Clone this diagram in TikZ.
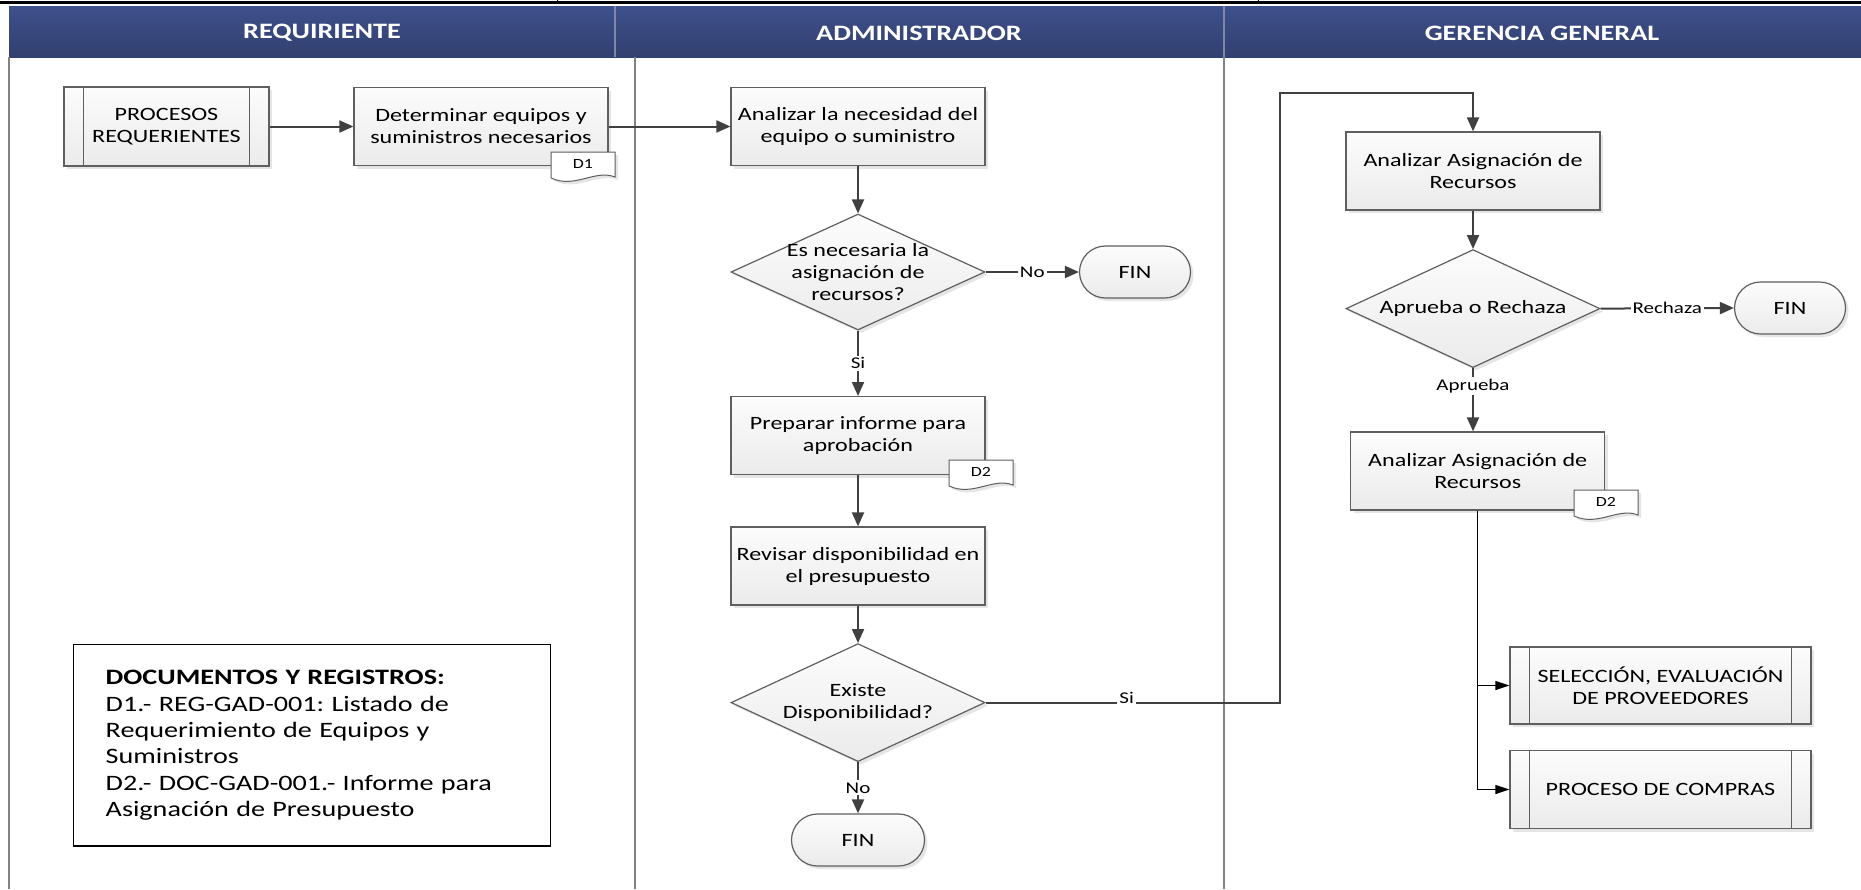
\documentclass[tikz,border=0pt]{standalone}
\usepackage{fontspec}
\setmainfont{Carlito}[FakeStretch=1.28]
\usetikzlibrary{arrows.meta,shapes.geometric,shadows}
\definecolor{hdrtop}{RGB}{62,80,140}
\definecolor{hdrbot}{RGB}{50,64,110}
\definecolor{hdrline}{RGB}{125,135,170}
\definecolor{laneline}{RGB}{130,130,130}
\definecolor{flowline}{RGB}{64,64,64}
\definecolor{boxline}{RGB}{95,95,95}
\definecolor{boxtop}{RGB}{252,252,252}
\definecolor{boxbot}{RGB}{235,235,235}
\frenchspacing
\tikzset{
  boxshadow/.style={drop shadow={shadow xshift=1.5pt,shadow yshift=-1.5pt,fill=black!10,opacity=1}},
  boxfill/.style={draw=boxline,line width=0.6pt,top color=boxtop,bottom color=boxbot,boxshadow},
  task/.style={rectangle,boxfill,minimum width=127pt,minimum height=39pt,align=center,inner sep=2pt,font=\fontsize{9.4}{11}\selectfont},
  subproc/.style={task,minimum width=102.5pt,minimum height=39.5pt},
  decision/.style={diamond,boxfill,minimum width=127pt,minimum height=58pt,inner sep=0pt},
  dectext/.style={align=center,font=\fontsize{9.4}{11}\selectfont},
  terminal/.style={rectangle,rounded corners=13pt,boxfill,minimum height=26pt,font=\fontsize{9.4}{11}\selectfont},
  flow/.style={draw=flowline,line width=1pt,-{Triangle[length=7pt,width=6pt]}},
  branch/.style={draw=black,line width=0.65pt,-{Triangle[length=7pt,width=4.5pt]}},
  flowlabel/.style={fill=white,inner sep=1pt,font=\fontsize{8.2}{9}\selectfont},
  lanehead/.style={text=white,font=\fontsize{11}{13}\selectfont\bfseries},
  lanesep/.style={draw=laneline,line width=0.75pt},
  hdrsep/.style={draw=hdrline,line width=0.75pt},
  pics/doctag/.style={code={
    \draw[draw=boxline,line width=0.5pt,fill=white,boxshadow] (-16pt,7.5pt) -- (16pt,7.5pt) -- (16pt,-5pt) .. controls (6pt,-1pt) and (-4pt,-11pt) .. (-16pt,-5.5pt) -- cycle;
    \node[font=\fontsize{7}{8}\selectfont] (-txt) at (0pt,1.5pt) {#1};
  }},
}
\begin{document}
\begin{tikzpicture}[x=0.5pt,y=-0.5pt]
\useasboundingbox (0,0) rectangle (1861,889);
\draw[line width=1.5pt] (0,2.5) -- (1861,2.5);
\draw[line width=0.5pt] (557,0) -- (557,3) (1258,0) -- (1258,3);
\shade[top color=hdrtop,bottom color=hdrbot] (9,6) rectangle (1861,57);
\draw[hdrsep] (615,6) -- (615,57) (1224,6) -- (1224,57);
\draw[lanesep] (9,57) -- (9,889) (635,57) -- (635,889) (1224,57) -- (1224,889);
\node[lanehead] (hreq) at (322,33) {REQUIRIENTE};
\node[lanehead] (hadm) at (919,33) {ADMINISTRADOR};
\node[lanehead] (hger) at (1542,33) {GERENCIA GENERAL};

\node[subproc] (procreq) at (166.5,126.5) {PROCESOS\\REQUERIENTES};
\draw[boxline,line width=0.6pt] ([xshift=10pt]procreq.north west) -- ([xshift=10pt]procreq.south west);
\draw[boxline,line width=0.6pt] ([xshift=-10pt]procreq.north east) -- ([xshift=-10pt]procreq.south east);
\node[task] (determ) at (481,126.5) {Determinar equipos y\\suministros necesarios};
\pic (tagone) at (583,167) {doctag=D1};

\node[task] (analiz) at (858,126.5) {Analizar la necesidad del\\equipo o suministro};
\node[decision,label={[dectext]center:Es necesaria la\\asignación de\\recursos?}] (necesa) at (858,272) {};
\node[terminal,minimum width=55.5pt] (finone) at (1135,272) {FIN};
\node[task] (prepar) at (858,435.6) {Preparar informe para\\aprobación};
\pic (tagtwo) at (981,475) {doctag=D2};
\node[task] (revisa) at (858,566) {Revisar disponibilidad en\\el presupuesto};
\node[decision,minimum height=59pt,label={[dectext]center:Existe\\Disponibilidad?}] (existe) at (858,702.6) {};
\node[terminal,minimum width=66.5pt] (fintwo) at (858,840) {FIN};

\node[task] (asigna) at (1473,171) {Analizar Asignación de\\Recursos};
\node[decision,minimum height=59pt,label={[dectext]center:Aprueba o Rechaza}] (aprueb) at (1473,308.6) {};
\node[terminal,minimum width=55.5pt] (finthr) at (1790,308) {FIN};
\node[task] (asigdos) at (1477.7,471) {Analizar Asignación de\\Recursos};
\pic (tagthr) at (1606,505) {doctag=D2};
\node[subproc,minimum width=150.5pt,minimum height=38.5pt] (selecc) at (1660.5,685.5) {SELECCIÓN, EVALUACIÓN\\DE PROVEEDORES};
\draw[boxline,line width=0.6pt] ([xshift=10pt]selecc.north west) -- ([xshift=10pt]selecc.south west);
\draw[boxline,line width=0.6pt] ([xshift=-10pt]selecc.north east) -- ([xshift=-10pt]selecc.south east);
\node[subproc,minimum width=150.5pt,minimum height=39pt] (compra) at (1660.5,789.5) {PROCESO DE COMPRAS};
\draw[boxline,line width=0.6pt] ([xshift=10pt]compra.north west) -- ([xshift=10pt]compra.south west);
\draw[boxline,line width=0.6pt] ([xshift=-10pt]compra.north east) -- ([xshift=-10pt]compra.south east);

\node[draw=black,line width=0.75pt,fill=white,minimum height=100.75pt,text width=206.5pt,inner xsep=16pt,inner ysep=0pt,align=left,font=\fontsize{11}{13.2}\selectfont] (docreg) at (312.2,745.3) {{\bfseries DOCUMENTOS Y REGISTROS:}\\D1.- REG-GAD-001: Listado de\\Requerimiento de Equipos y\\Suministros\\D2.- DOC-GAD-001.- Informe para\\Asignación de Presupuesto};

\draw[flow] (procreq.east) -- (determ.west);
\draw[flow] (determ.east) -- (analiz.west);
\draw[flow] (analiz.south) -- (necesa.north);
\draw[flow] (necesa.east) -- node[flowlabel] {No} (finone.west);
\draw[flow] (necesa.south) -- node[flowlabel] {Si} (prepar.north);
\draw[flow] (prepar.south) -- (revisa.north);
\draw[flow] (revisa.south) -- (existe.north);
\draw[flow] (existe.south) -- node[flowlabel] {No} (fintwo.north);
\coordinate (siturn) at (1279.5,92.6);
\draw[flow] (existe.east) -- node[flowlabel,pos=.48,yshift=2.5pt] {Si} (existe.east -| siturn) -- (siturn) -| (asigna.north);
\draw[flow] (asigna.south) -- (aprueb.north);
\draw[flow] (aprueb.east) -- node[flowlabel] {Rechaza} (finthr.west);
\draw[flow] (aprueb.south) -- node[flowlabel,pos=.28] {Aprueba} (aprueb.south |- asigdos.north);
\draw[branch] (asigdos.south) |- (selecc.west);
\draw[branch] (asigdos.south) |- (compra.west);
\end{tikzpicture}
\end{document}
